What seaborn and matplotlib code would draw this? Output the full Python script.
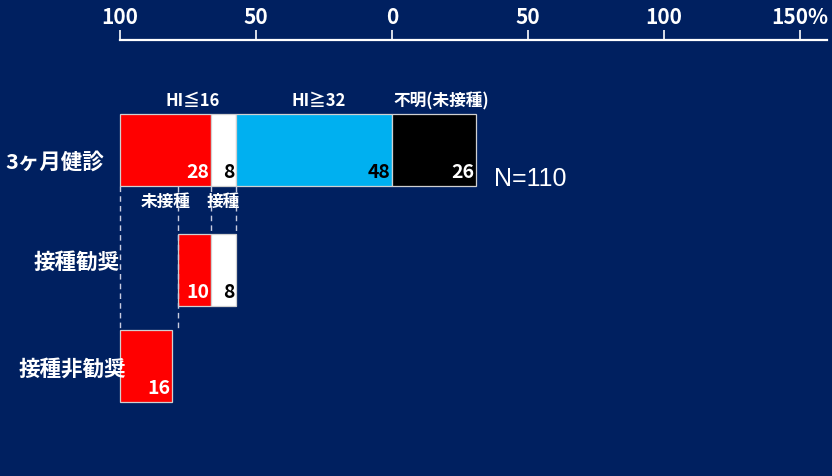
import matplotlib.pyplot as plt
import seaborn as sns

sns.set_style('white')
plt.rcParams['font.family'] = ['Liberation Sans Narrow', 'Noto Sans CJK JP', 'DejaVu Sans']

# data
categories = ['3ヶ月健診', '接種勧奨', '接種非勧奨']
checkup_values = [28, 8, 48, 26]          # 未接種, 接種 (HI<=16), HI>=32, 不明
checkup_colors = ['#ff0000', '#ffffff', '#00b0f0', '#000000']
recommended_values = [10, 8]              # 未接種, 接種
recommended_colors = ['#ff0000', '#ffffff']
not_recommended_values = [16]
not_recommended_colors = ['#ff0000']
group_labels = ['HI≦16', 'HI≧32', '不明(未接種)']
sub_labels = ['未接種', '接種']
n_total = 110
tick_pct = [-100, -50, 0, 50, 100, 150]
tick_labels = ['100', '50', '0', '50', '100', '150%']

BG = '#002060'
px = 3.24                     # pixels per count
zero_px = 392
row_y = [150.5, 271, 366.5]   # layout (pixel rows)
bar_h = 72

fig = plt.figure(figsize=(8.32, 4.77), dpi=100, facecolor=BG)
ax = fig.add_axes([0, 0, 1, 1 - 41 / 477])
ax.set_facecolor(BG)
ax.set_xlim(-zero_px / px, (832 - zero_px) / px)
ax.set_ylim(477, 41)


def text_color(c):
    return 'black' if c in ('#ffffff', '#00b0f0') else 'white'


def draw_row(y, lefts, vals, cols):
    for l, v, c in zip(lefts, vals, cols):
        ax.barh(y, v, left=l, height=bar_h, color=c, edgecolor='#d0d0d0', linewidth=0.9, zorder=2)
        ax.text(l + v - 0.5, y + 22, str(v), ha='right', va='center', color=text_color(c),
                fontsize=14, fontweight='bold', zorder=4)


# row 1: zero sits between HI>=32 and 不明
left0 = -sum(checkup_values[:3])
lefts1 = [left0 + sum(checkup_values[:i]) for i in range(len(checkup_values))]
draw_row(row_y[0], lefts1, checkup_values, checkup_colors)

# row 2 lines up with the end of 接種 in row 1
right2 = lefts1[1] + checkup_values[1]
left2 = right2 - sum(recommended_values)
lefts2 = [left2, left2 + recommended_values[0]]
draw_row(row_y[1], lefts2, recommended_values, recommended_colors)

# row 3 starts at the left edge
draw_row(row_y[2], [left0], not_recommended_values, not_recommended_colors)

# dashed guides
b1 = row_y[0] + bar_h / 2
t2 = row_y[1] - bar_h / 2
t3 = row_y[2] - bar_h / 2
ax.vlines([left0, left2], b1, t3, colors='#c8cce0', linestyles=(0, (4, 3)), linewidth=1, zorder=3)
ax.vlines([lefts1[1], right2], b1, t2, colors='#c8cce0', linestyles=(0, (4, 3)), linewidth=1, zorder=3)

# labels above row 1
cjk = ['Noto Sans CJK JP', 'DejaVu Sans']
top_y = 101
ax.text(lefts1[1] - 5.5, top_y, group_labels[0], ha='center', va='center', color='white',
        fontsize=12, fontweight='bold', family=cjk)
ax.text(lefts1[2] + checkup_values[2] / 2 + 1.5, top_y, group_labels[1], ha='center', va='center',
        color='white', fontsize=12, fontweight='bold', family=cjk)
ax.text(lefts1[3] + 0.3, top_y, group_labels[2], ha='left', va='center', color='white',
        fontsize=12, fontweight='bold', family=cjk)

# labels below row 1
ax.text(lefts1[0] + checkup_values[0] / 2, 202, sub_labels[0], ha='center', va='center',
        color='white', fontsize=12, fontweight='bold', family=cjk)
ax.text(lefts1[1] + checkup_values[1] / 2, 202, sub_labels[1], ha='center', va='center',
        color='white', fontsize=12, fontweight='bold', family=cjk)

# N
ax.text(lefts1[3] + checkup_values[3] + 5.5, row_y[0] + 29, f'N={n_total}', ha='left', va='center',
        color='white', fontsize=18, family=['Liberation Sans', 'DejaVu Sans'])

# category labels
cat_x = [-89, -84, -82]
cat_dy = [12, -8.5, 2.5]
for name, x, y, dy in zip(categories, cat_x, row_y, cat_dy):
    ax.text(x, y + dy, name, ha='right', va='center', color='white', fontsize=15.5,
            fontweight='bold', family=cjk, zorder=5)

# top scale
unit = sum(checkup_values[:3]) / 100
ax.xaxis.tick_top()
ax.set_xticks([p * unit for p in tick_pct])
ax.set_xticklabels(tick_labels, fontsize=15, fontweight='bold', color='white')
ax.tick_params(axis='x', colors='white', direction='out', length=7, width=1.2, pad=2)
ax.set_yticks([])
for s in ['left', 'right', 'bottom']:
    ax.spines[s].set_visible(False)
ax.spines['top'].set_color('white')
ax.spines['top'].set_linewidth(1.6)
ax.spines['top'].set_bounds(-84, (827 - zero_px) / px)

fig.savefig('out.png', dpi=100, facecolor=BG)
